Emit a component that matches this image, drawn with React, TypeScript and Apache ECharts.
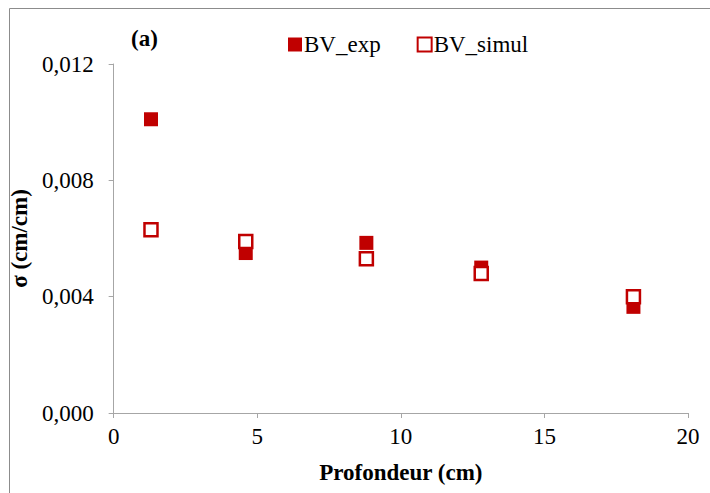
import React, { useEffect, useRef } from "react";
import * as echarts from "echarts";

const depth = [1.3, 4.6, 8.8, 12.8, 18.1];
const bvExp = [0.0101, 0.0055, 0.00585, 0.005, 0.00365];
const bvSimul = [0.0063, 0.0059, 0.0053, 0.0048, 0.004];

const RED = "#c00000";
const FONT = "'Liberation Serif', 'Times New Roman', serif";
const FS = 23;

export default function App() {
  const ref = useRef<HTMLDivElement>(null);
  useEffect(() => {
    if (!ref.current) return;
    const chart = echarts.init(ref.current, null, { renderer: "svg" });
    chart.setOption({
      animation: false,
      backgroundColor: "#fff",
      textStyle: { fontFamily: FONT },
      grid: { left: 113, right: 22, top: 64, bottom: 80 },
      legend: {
        top: 28,
        left: 283,
        itemWidth: 14,
        itemHeight: 14,
        itemGap: 36,
        icon: "rect",
        textStyle: { fontFamily: FONT, fontSize: FS, color: "#000", padding: [0, 0, 0, -3] },
        data: ["BV_exp", "BV_simul"],
      },
      graphic: [
        {
          type: "rect",
          shape: { x: 9.5, y: 8.5, width: 720, height: 500 },
          style: { fill: "none", stroke: "#8c8c8c", lineWidth: 1 },
          silent: true,
        },
        {
          type: "text",
          left: 131,
          top: 27,
          style: { text: "(a)", font: `bold ${FS}px ${FONT}`, fill: "#000" },
        },
      ],
      xAxis: {
        type: "value",
        min: 0,
        max: 20,
        interval: 5,
        name: "Profondeur (cm)",
        nameLocation: "middle",
        nameGap: 48,
        nameTextStyle: { fontFamily: FONT, fontSize: FS, fontWeight: "bold", color: "#000" },
        axisLine: { show: true, lineStyle: { color: "#a6a6a6", width: 1 } },
        axisTick: { show: true, inside: false, length: 5, lineStyle: { color: "#a6a6a6" } },
        axisLabel: { fontFamily: FONT, fontSize: FS, color: "#000", margin: 12 },
        splitLine: { show: false },
      },
      yAxis: {
        type: "value",
        min: 0,
        max: 0.012,
        interval: 0.004,
        name: "σ (cm/cm)",
        nameLocation: "middle",
        nameGap: 80,
        nameTextStyle: { fontFamily: FONT, fontSize: FS, fontWeight: "bold", color: "#000" },
        axisLine: { show: true, lineStyle: { color: "#a6a6a6", width: 1 } },
        axisTick: { show: true, inside: false, length: 5, lineStyle: { color: "#a6a6a6" } },
        axisLabel: {
          fontFamily: FONT,
          fontSize: FS,
          color: "#000",
          margin: 20,
          formatter: (v: number) => v.toFixed(3).replace(".", ","),
        },
        splitLine: { show: false },
      },
      series: [
        {
          name: "BV_exp",
          type: "scatter",
          symbol: "rect",
          symbolSize: 14,
          itemStyle: { color: RED, opacity: 1 },
          data: depth.map((d, i) => [d, bvExp[i]]),
          z: 2,
        },
        {
          name: "BV_simul",
          type: "scatter",
          symbol: "rect",
          symbolSize: 13,
          itemStyle: { color: "#fff", borderColor: RED, borderWidth: 2.5, opacity: 1 },
          data: depth.map((d, i) => [d, bvSimul[i]]),
          z: 3,
        },
      ],
    });
    return () => chart.dispose();
  }, []);
  return (
    <div
      ref={ref}
      style={{ position: "fixed", left: 0, top: 0, width: 710, height: 493 }}
    />
  );
}
